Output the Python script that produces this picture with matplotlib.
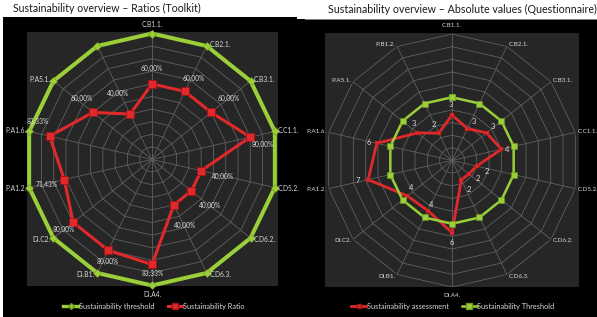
import numpy as np
import matplotlib
matplotlib.use("Agg")
import matplotlib.pyplot as plt
from matplotlib.patches import Rectangle
from matplotlib.lines import Line2D

plt.rcParams['font.family'] = ['Lato', 'DejaVu Sans']

# ---------------- data ----------------
categories = ["C.B1.1.", "C.B2.1.", "C.B3.1.", "C.C1.1.", "C.D5.2.", "C.D6.2.", "C.D6.3.",
              "Di.A4.", "Di.B1.", "Di.C2.", "P.A1.2.", "P.A1.6.", "P.A5.1.", "P.B1.2."]
left_axis_labels = ["C.B1.1.", "C.B2.1.", "C.B3.1.", "C.C1.1.", "C.D5.2.", "C.D6.2.", "C.D6.3.",
                    "Di.A4.", "Di.B1.", "Di.C2.", "P.A1.2.", "P.A1.6.", "P.A5.1.", ""]

ratio_threshold = [100, 100, 100, 100, 100, 100, 100, 100, 100, 100, 100, 100, 100, 100]
ratio_values = [60.00, 60.00, 60.00, 80.00, 40.00, 40.00, 40.00,
                83.33, 80.00, 80.00, 71.43, 83.33, 60.00, 40.00]

assessment_values = [3.6, 2.8, 3.5, 4.0, 2.0, 1.7, 1.7, 5.7, 4.4, 4.5, 6.8, 6.1, 3.5, 2.4]
assessment_labels = ["3", "3", "3", "4", "2", "2", "2", "6", "4", "4", "7", "6", "3", "2"]
assessment_threshold = [5, 5, 5, 5, 5, 5, 5, 5, 5, 5, 5, 5, 5, 5]

left_title = "Sustainability overview – Ratios (Toolkit)"
right_title = "Sustainability overview – Absolute values (Questionnaire)"

# ---------------- style ----------------
W, H = 597, 317
GREEN = '#9bcf3a'
GREEN_DARK = '#6f9a22'
RED = '#e0292b'
RED_DARK = '#9e1517'
GRID = '#606060'
PLOT_BG = '#262626'
TXT = '#d9d9d9'

# data-label offsets (pixels, x right / y down) for each category
left_label_offsets = [(0, -15), (9, -13), (18, -14), (12, 7), (22, 6), (19, 15), (11, 21),
                      (1, 9), (-1, 11), (-9, 7), (-18, 5), (-12, -15), (-11, -14), (-12, -21)]
right_label_offsets = [(-1, -10), (6, -7), (6, -6), (6, 0), (10, 5), (9, 5), (8, 10),
                       (0, 10), (3, -6), (4, -8), (-10, 1), (-8, -1), (-4, -9), (-5, -9)]

fig = plt.figure(figsize=(W / 100, H / 100), dpi=100)
fig.patch.set_facecolor('white')


def fig_rect(x0, y0, x1, y1, z, **kw):
    r = Rectangle((x0 / W, 1 - y1 / H), (x1 - x0) / W, (y1 - y0) / H,
                  transform=fig.transFigure, zorder=z, **kw)
    fig.add_artist(r)
    return r


# panels
fig_rect(3, 17, 297, 317, -3, facecolor='black', edgecolor='none')
fig_rect(297, 19, 597, 317, -3, facecolor='black', edgecolor='none')
fig_rect(27, 32, 278, 286, -2, facecolor=PLOT_BG, edgecolor='none')
fig_rect(325, 33, 579, 287, -2, facecolor=PLOT_BG, edgecolor='none')
fig.add_artist(Line2D([305 / W, 1], [1 - 18.5 / H, 1 - 18.5 / H], transform=fig.transFigure,
                      color='#9a9a9a', lw=0.6, zorder=-1))

fig.text(13 / W, 1 - 8.5 / H, left_title, fontsize=7.6, color='#1a1a1a', ha='left', va='center')
fig.text(597 / W, 1 - 9.5 / H, right_title, fontsize=7.7, color='#1a1a1a', ha='right', va='center')

N = len(categories)
theta = np.arange(N) * 2 * np.pi / N
theta_c = np.append(theta, theta[0])


def make_radar(cx, cy, rad, rmax, nrings):
    ax = fig.add_axes([(cx - rad) / W, 1 - (cy + rad) / H, 2 * rad / W, 2 * rad / H],
                      projection='polar')
    ax.patch.set_visible(False)
    ax.spines['polar'].set_visible(False)
    ax.grid(False)
    ax.set_xticks([])
    ax.set_yticks([])
    ax.set_theta_zero_location('N')
    ax.set_theta_direction(-1)
    ax.set_ylim(0, rmax)
    step = rmax / nrings
    for k in range(1, nrings + 1):
        ax.plot(theta_c, np.full(N + 1, k * step), color=GRID, lw=0.6, zorder=1)
    for t in theta:
        ax.plot([t, t], [0, rmax], color=GRID, lw=0.6, zorder=1)
    return ax


def axis_labels(ax, labels, rmax, size, gap):
    for t, lab in zip(theta, labels):
        s, c = np.sin(t), np.cos(t)
        if abs(s) < 0.1:
            ha = 'center'
            va = 'bottom' if c > 0 else 'top'
            off = (0, 4 * np.sign(c))
        else:
            ha = 'left' if s > 0 else 'right'
            va = 'center'
            off = (gap * np.sign(s), 1.5 * c)
        ax.annotate(lab, xy=(t, rmax), xytext=off, textcoords='offset points',
                    ha=ha, va=va, fontsize=size, color=TXT, annotation_clip=False)


def data_labels(ax, values, texts, offsets, size):
    for t, v, txt, (dx, dy) in zip(theta, values, texts, offsets):
        ax.annotate(txt, xy=(t, v), xytext=(dx * 0.72, -dy * 0.72), textcoords='offset points',
                    ha='center', va='center', fontsize=size, color=TXT,
                    annotation_clip=False, zorder=6)


# ---------------- left chart ----------------
axL = make_radar(152, 159.5, 126, 100, 10)
axL.plot(theta_c, np.append(ratio_threshold, ratio_threshold[0]), color=GREEN, lw=2.9,
         marker='D', ms=3.8, mfc=GREEN, mec=GREEN_DARK, mew=0.4, zorder=3, clip_on=False)
axL.plot(theta_c, np.append(ratio_values, ratio_values[0]), color=RED, lw=2.2,
         marker='s', ms=6, mfc=RED, mec=RED_DARK, mew=0.6, zorder=4, clip_on=False)
axis_labels(axL, left_axis_labels, 100, 4.8, 2.0)
ratio_texts = [f"{v:.2f}".replace('.', ',') + '%' for v in ratio_values]
data_labels(axL, ratio_values, ratio_texts, left_label_offsets, 4.8)

# ---------------- right chart ----------------
axR = make_radar(452, 160.5, 126.5, 10, 10)
axR.plot(theta_c, np.append(assessment_values, assessment_values[0]), color=RED, lw=2.0,
         marker='s', ms=2.5, mfc=RED, mec=RED_DARK, mew=0.3, zorder=3, clip_on=False)
axR.plot(theta_c, np.append(assessment_threshold, assessment_threshold[0]), color=GREEN, lw=1.8,
         marker='s', ms=4.5, mfc=GREEN, mec=GREEN_DARK, mew=0.4, zorder=4, clip_on=False)
axis_labels(axR, categories, 10, 4.5, 1.5)
data_labels(axR, assessment_values, assessment_labels, right_label_offsets, 5.5)

# ---------------- legends ----------------
hL = [Line2D([], [], color=GREEN, lw=2.4, marker='D', ms=3, mfc=GREEN, mec=GREEN_DARK),
      Line2D([], [], color=RED, lw=2.2, marker='s', ms=4, mfc=RED, mec=RED_DARK)]
fig.legend(hL, ["Sustainability threshold", "Sustainability Ratio"], loc='center',
           bbox_to_anchor=(154 / W, 1 - 306 / H), ncol=2, frameon=False, fontsize=5.3,
           labelcolor=TXT, handlelength=2.0, handletextpad=0.1, columnspacing=1.8)
hR = [Line2D([], [], color=RED, lw=2.0, marker='s', ms=2.5, mfc=RED, mec=RED_DARK),
      Line2D([], [], color=GREEN, lw=1.8, marker='s', ms=4, mfc=GREEN, mec=GREEN_DARK)]
fig.legend(hR, ["Sustainability assessment", "Sustainability Threshold"], loc='center',
           bbox_to_anchor=(453 / W, 1 - 306 / H), ncol=2, frameon=False, fontsize=5.3,
           labelcolor=TXT, handlelength=2.0, handletextpad=0.1, columnspacing=1.8)

fig.savefig('out.png', dpi=100, facecolor=fig.get_facecolor())
